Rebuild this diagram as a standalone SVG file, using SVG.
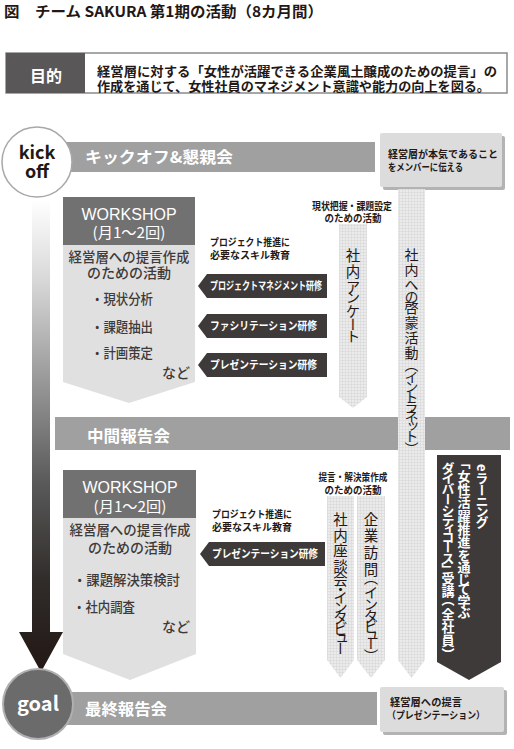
<svg xmlns="http://www.w3.org/2000/svg" width="514" height="749" viewBox="0 0 514 749">
<style>
text{font-family:"Noto Sans CJK JP","Noto Sans",sans-serif;fill:#231815}
.b{font-weight:bold}
.w{fill:#ffffff}
.bar{fill:#a0a0a0}
.wsh{fill:#717171}
.wsb{fill:#e0e0e0}
.tag{fill:#3e3a39}
.col{fill:url(#grid)}
.lat{font-family:"Liberation Sans",Arial,sans-serif}
.vt{writing-mode:vertical-rl}
.body{font-size:14px;fill:#3e3a39;font-weight:500}
.sm{font-size:10px;font-weight:bold}
.tg{font-size:11px;font-weight:bold;fill:#ffffff}
.co{fill:#dcdcdc}
.sh{fill:#b3b3b3}
</style>
<defs>
<pattern id="grid" width="3" height="3" patternUnits="userSpaceOnUse">
<rect width="3" height="3" fill="#ebebeb"/>
<path d="M0 0.25H3M0.25 0V3" stroke="#cdcdcd" stroke-width="0.5"/>
</pattern>
<linearGradient id="ag" gradientUnits="userSpaceOnUse" x1="0" y1="200" x2="0" y2="670">
<stop offset="0" stop-color="#ffffff"/>
<stop offset="0.17" stop-color="#d8d8d8"/>
<stop offset="0.38" stop-color="#9a9a9a"/>
<stop offset="0.6" stop-color="#5a5a5a"/>
<stop offset="0.81" stop-color="#302c2a"/>
<stop offset="1" stop-color="#231815"/>
</linearGradient>
</defs>
<rect width="514" height="749" fill="#ffffff"/>

<g id="title">
<text x="4" y="17" class="b" font-size="15" textLength="319" lengthAdjust="spacingAndGlyphs">図　チーム SAKURA 第1期の活動（8カ月間）</text>
</g>

<g id="purpose">
<rect x="6" y="53" width="501" height="40" fill="#ffffff" stroke="#8a8a8a" stroke-width="1.5"/>
<rect x="6" y="53" width="79" height="40" fill="#595757"/>
<text x="46" y="82" class="b w" font-size="16" text-anchor="middle">目的</text>
<text class="b" font-size="13"><tspan x="97" y="76" textLength="400" lengthAdjust="spacingAndGlyphs">経営層に対する「女性が活躍できる企業風土醸成のための提言」の</tspan><tspan x="97" y="91" textLength="393" lengthAdjust="spacingAndGlyphs">作成を通じて、女性社員のマネジメント意識や能力の向上を図る。</tspan></text>
</g>

<g id="connectors">
<polygon points="32,200 50,200 50,632 63,632 41,672 19,632 32,632" fill="url(#ag)"/>
</g>

<g id="kickoff">
<rect x="60" y="142" width="315" height="30" class="bar"/>
<circle cx="37" cy="162" r="35" fill="#ffffff" stroke="#a8a8a8" stroke-width="1.5"/>
<text class="b" font-size="18" text-anchor="middle" font-family="Open Sans"><tspan x="37" y="159">kick</tspan><tspan x="37" y="178">off</tspan></text>
<text x="85" y="163" class="b w" font-size="16" textLength="148" lengthAdjust="spacingAndGlyphs">キックオフ&amp;懇親会</text>
</g>

<g id="kickoff-note">
<rect x="383" y="136" width="122" height="54" rx="2" class="sh"/>
<rect x="380" y="133" width="122" height="54" rx="2" class="co"/>
<text class="sm" font-size="10.5"><tspan x="388" y="158" textLength="110" lengthAdjust="spacingAndGlyphs">経営層が本気であること</tspan><tspan x="388" y="171" textLength="75" lengthAdjust="spacingAndGlyphs">をメンバーに伝える</tspan></text>
</g>

<g id="midreport">
<rect x="55" y="417" width="455" height="33" class="bar"/>
<text x="87" y="442" class="b w" font-size="16" textLength="83" lengthAdjust="spacingAndGlyphs">中間報告会</text>
</g>

<g id="workshop1">
<rect x="63" y="197" width="132" height="48" class="wsh"/>
<polygon points="63,245 195,245 195,382 129,403 63,382" class="wsb"/>
<text class="w" text-anchor="middle"><tspan x="129" y="220" class="lat" font-size="16">WORKSHOP</tspan><tspan x="129" y="238" font-size="15" textLength="73" lengthAdjust="spacingAndGlyphs">(月1～2回)</tspan></text>
<text class="body" text-anchor="middle"><tspan x="129" y="262" textLength="121" lengthAdjust="spacingAndGlyphs">経営層への提言作成</tspan><tspan x="129" y="278">のための活動</tspan></text>
<text class="body"><tspan x="91" y="304" textLength="62" lengthAdjust="spacingAndGlyphs">・現状分析</tspan><tspan x="91" y="332" textLength="62" lengthAdjust="spacingAndGlyphs">・課題抽出</tspan><tspan x="91" y="358" textLength="62" lengthAdjust="spacingAndGlyphs">・計画策定</tspan><tspan x="162" y="378">など</tspan></text>
</g>

<g id="skills1">
<text class="sm"><tspan x="210" y="246" textLength="80" lengthAdjust="spacingAndGlyphs">プロジェクト推進に</tspan><tspan x="210" y="259" textLength="80" lengthAdjust="spacingAndGlyphs">必要なスキル教育</tspan></text>
<polygon points="198,286 207,274 327,274 327,298 207,298" class="tag"/>
<text x="210" y="290" class="tg" textLength="112" lengthAdjust="spacingAndGlyphs">プロジェクトマネジメント研修</text>
<polygon points="198,326 207,314 327,314 327,338 207,338" class="tag"/>
<text x="210" y="330" class="tg" textLength="107" lengthAdjust="spacingAndGlyphs">ファシリテーション研修</text>
<polygon points="198,365 207,353 327,353 327,377 207,377" class="tag"/>
<text x="210" y="369" class="tg" textLength="107" lengthAdjust="spacingAndGlyphs">プレゼンテーション研修</text>
</g>

<g id="survey">
<text class="sm" text-anchor="middle"><tspan x="352" y="210" textLength="80" lengthAdjust="spacingAndGlyphs">現状把握・課題設定</tspan><tspan x="353" y="222" textLength="57" lengthAdjust="spacingAndGlyphs">のための活動</tspan></text>
<polygon points="339,224 367,224 367,397 353,408 339,397" class="col"/>
<text x="353" y="248 264 280 290 304 317 329" class="vt" font-size="14.5">社内アンケート</text>
</g>

<g id="intranet">
<polygon points="398,189 425,189 425,660 411.5,678 398,660" class="col"/>
<text x="411.5" y="248 263 278 290 301 316 331 346 357.5 370 380 390 399.5 409 419 429 442" class="vt" font-size="14">社内への啓蒙活動（イントラネット）</text>
</g>

<g id="workshop2">
<rect x="63" y="470" width="133" height="48" class="wsh"/>
<polygon points="63,518 196,518 196,654 130,680 63,654" class="wsb"/>
<text class="w" text-anchor="middle"><tspan x="130" y="493" class="lat" font-size="16">WORKSHOP</tspan><tspan x="130" y="512" font-size="15" textLength="73" lengthAdjust="spacingAndGlyphs">(月1～2回)</tspan></text>
<text class="body" text-anchor="middle"><tspan x="130" y="535" textLength="121" lengthAdjust="spacingAndGlyphs">経営層への提言作成</tspan><tspan x="130" y="553">のための活動</tspan></text>
<text class="body"><tspan x="73" y="585" textLength="107" lengthAdjust="spacingAndGlyphs">・課題解決策検討</tspan><tspan x="73" y="612" textLength="62" lengthAdjust="spacingAndGlyphs">・社内調査</tspan><tspan x="162" y="632">など</tspan></text>
</g>

<g id="skills2">
<text class="sm"><tspan x="212" y="518" textLength="80" lengthAdjust="spacingAndGlyphs">プロジェクト推進に</tspan><tspan x="212" y="531" textLength="80" lengthAdjust="spacingAndGlyphs">必要なスキル教育</tspan></text>
<polygon points="200,554 209,542 325,542 325,566 209,566" class="tag"/>
<text x="212" y="558" class="tg" textLength="106" lengthAdjust="spacingAndGlyphs">プレゼンテーション研修</text>
</g>

<g id="research">
<text class="sm" text-anchor="middle"><tspan x="353" y="481" textLength="69" lengthAdjust="spacingAndGlyphs">提言・解決策作成</tspan><tspan x="353" y="494" textLength="57" lengthAdjust="spacingAndGlyphs">のための活動</tspan></text>
</g>

<g id="colA">
<polygon points="327,496 354,496 354,660 340.5,678 327,660" class="col"/>
<text x="340.5" y="512 528 543 559 572 582 590 600 610 621 631 641" class="vt" font-size="14.5">社内座談会・インタビュー</text>
</g>

<g id="colB">
<polygon points="357,496 385,496 385,660 371,678 357,660" class="col"/>
<text x="371" y="512 528 545 562 570.5 585 597 609 619 628 636 649" class="vt" font-size="14.5">企業訪問（インタビュー）</text>
</g>

<g id="elearning">
<polygon points="437,455 501,455 501,662 469,680 437,662" class="tag"/>
<text x="482" y="464 471.5 483.5 494.5 504.5 515.5" class="vt b w" font-size="13">eラーニング</text>
<text x="464" y="456 469.5 482.5 496 509.5 522.5 536 548.5 561 572.5 582.5 594.5 606" class="vt b w" font-size="13">「女性活躍推進を通じて学ぶ</text>
<text x="448" y="461.5 471.5 482 493 503.5 513.5 522 530.5 541 551.5 562.75 571.5 584.5 592.25 607.5 620.5 633.5 647.75" class="vt b w" font-size="13">ダイバーシティコース」受講（全社員）</text>
</g>

<g id="goal">
<rect x="60" y="692" width="317" height="33" class="bar"/>
<circle cx="38" cy="704" r="35" fill="#6b6b6b" stroke="#b0b0b0" stroke-width="2"/>
<text x="38" y="711" class="b w" font-size="20" text-anchor="middle" font-family="Open Sans">goal</text>
<text x="85" y="715" class="b w" font-size="16" textLength="82" lengthAdjust="spacingAndGlyphs">最終報告会</text>
</g>

<g id="goal-note">
<rect x="383" y="690" width="124" height="45" rx="2" class="sh"/>
<rect x="380" y="687" width="124" height="45" rx="2" class="co"/>
<text class="sm" font-size="10.5"><tspan x="390" y="706" textLength="72" lengthAdjust="spacingAndGlyphs">経営層への提言</tspan><tspan x="387" y="719" textLength="98" lengthAdjust="spacingAndGlyphs">（プレゼンテーション）</tspan></text>
</g>
</svg>
